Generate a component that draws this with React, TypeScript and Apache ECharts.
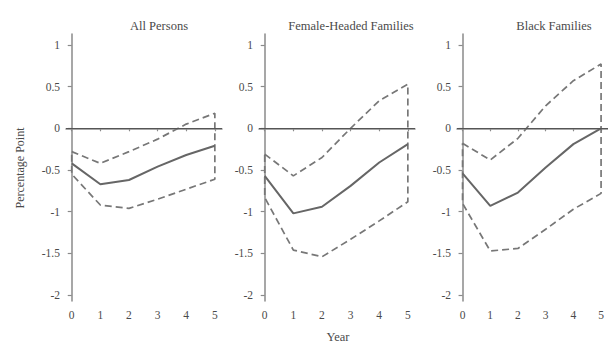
import React, { useEffect, useRef } from "react";
import * as echarts from "echarts";

const years = [0, 1, 2, 3, 4, 5];
const yTicks = [1, 0.5, 0, -0.5, -1, -1.5, -2];
const panelTitles = ["All Persons", "Female-Headed Families", "Black Families"];

const allEst = [-0.42, -0.67, -0.62, -0.46, -0.32, -0.21];
const allUpper = [-0.28, -0.42, -0.28, -0.13, 0.05, 0.18];
const allLower = [-0.55, -0.92, -0.96, -0.85, -0.73, -0.61];

const femEst = [-0.57, -1.02, -0.94, -0.69, -0.41, -0.19];
const femUpper = [-0.31, -0.57, -0.35, 0.0, 0.33, 0.53];
const femLower = [-0.83, -1.46, -1.54, -1.33, -1.11, -0.88];

const blackEst = [-0.54, -0.93, -0.77, -0.47, -0.19, 0.0];
const blackUpper = [-0.18, -0.38, -0.12, 0.27, 0.57, 0.77];
const blackLower = [-0.9, -1.47, -1.44, -1.21, -0.97, -0.78];

const panels = [
  { est: allEst, upper: allUpper, lower: allLower },
  { est: femEst, upper: femUpper, lower: femLower },
  { est: blackEst, upper: blackUpper, lower: blackLower },
];

const FONT = "Liberation Serif";
const TEXT = "#4a4a4a";
const AXIS = "#8a8a8a";
const LINE = "#666";

export default function App() {
  const ref = useRef<HTMLDivElement>(null);
  useEffect(() => {
    if (!ref.current) return;
    const chart = echarts.init(ref.current, null, { renderer: "svg" });
    const lefts = [66, 259, 457];
    const titleX = [154, 346, 549];
    const grids = lefts.map((l) => ({ left: l, top: 34, width: 156, height: 267 }));
    const xAxes = lefts.map((_, i) => ({
      type: "value",
      gridIndex: i,
      min: -0.2,
      max: 5.25,
      axisLine: { show: true, lineStyle: { color: AXIS, width: 1.5 } },
      axisTick: { show: true, length: 3, customValues: years, lineStyle: { color: AXIS, width: 1.2 } },
      axisLabel: { customValues: years, color: TEXT, fontFamily: FONT, fontSize: 11.5, margin: 8 },
      splitLine: { show: false },
    }));
    const yAxes = lefts.map((_, i) => ({
      type: "value",
      gridIndex: i,
      min: -2.07,
      max: 1.13,
      axisLine: { show: true, lineStyle: { color: AXIS, width: 1.5 } },
      axisTick: { show: true, length: 4, customValues: yTicks, lineStyle: { color: AXIS, width: 1.2 } },
      axisLabel: { customValues: yTicks, color: TEXT, fontFamily: FONT, fontSize: 11.5, margin: 6 },
      splitLine: { show: false },
    }));
    const series: any[] = [];
    panels.forEach((p, i) => {
      const band: number[][] = [];
      years.forEach((y, k) => band.push([y, p.upper[k]]));
      for (let k = years.length - 1; k >= 0; k--) band.push([years[k], p.lower[k]]);
      band.push([years[0], p.upper[0]]);
      series.push({
        type: "line",
        xAxisIndex: i,
        yAxisIndex: i,
        data: band,
        symbol: "none",
        lineStyle: { color: "#777", width: 1.7, type: [7, 4] },
        silent: true,
      });
      series.push({
        type: "line",
        xAxisIndex: i,
        yAxisIndex: i,
        data: years.map((y, k) => [y, p.est[k]]),
        symbol: "none",
        lineStyle: { color: LINE, width: 2 },
        silent: true,
        markLine: {
          silent: true,
          symbol: "none",
          label: { show: false },
          lineStyle: { color: "#555", width: 1.1, type: "solid" },
          data: [{ yAxis: 0 }],
        },
      });
    });
    chart.setOption({
      animation: false,
      backgroundColor: "#fff",
      grid: grids,
      xAxis: xAxes,
      yAxis: yAxes,
      series,
      title: panelTitles.map((t, i) => ({
        text: t,
        left: titleX[i],
        top: 14,
        textAlign: "center",
        textStyle: { color: TEXT, fontFamily: FONT, fontSize: 12.5, fontWeight: "normal" },
      })),
      graphic: [
        {
          type: "text",
          x: 20,
          y: 168,
          rotation: Math.PI / 2,
          style: {
            text: "Percentage Point",
            fill: TEXT,
            font: `12px "${FONT}"`,
            textAlign: "center",
            textVerticalAlign: "middle",
          },
        },
        {
          type: "text",
          x: 338,
          y: 337,
          style: {
            text: "Year",
            fill: TEXT,
            font: `12.5px "${FONT}"`,
            textAlign: "center",
            textVerticalAlign: "middle",
          },
        },
      ],
    });
    return () => chart.dispose();
  }, []);
  return (
    <div style={{ position: "absolute", left: 0, top: 0, width: 608, height: 343, overflow: "hidden" }}>
      <div ref={ref} style={{ width: 608, height: 343 }} />
    </div>
  );
}
